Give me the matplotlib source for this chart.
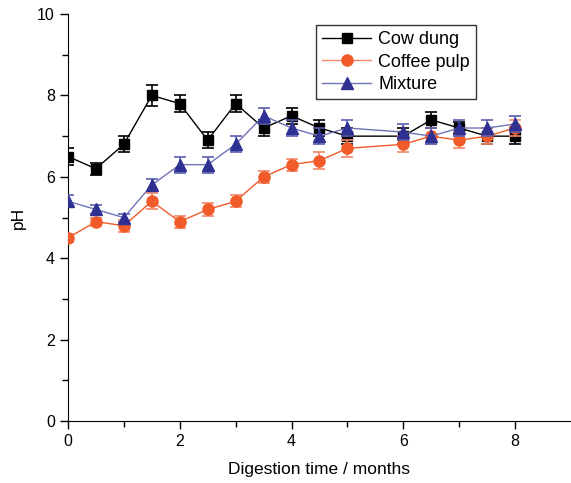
import matplotlib
matplotlib.use("Agg")
import matplotlib.pyplot as plt
from matplotlib.lines import Line2D

plt.rcParams['font.family'] = ['Liberation Sans', 'DejaVu Sans']

time = [0, 0.5, 1, 1.5, 2, 2.5, 3, 3.5, 4, 4.5, 5, 6, 6.5, 7, 7.5, 8]
cow_dung = [6.5, 6.2, 6.8, 8.0, 7.8, 6.9, 7.8, 7.2, 7.5, 7.2, 7.0, 7.0, 7.4, 7.2, 7.0, 7.0]
cow_err = [0.2, 0.15, 0.2, 0.25, 0.2, 0.2, 0.2, 0.2, 0.2, 0.2, 0.2, 0.2, 0.2, 0.15, 0.2, 0.2]
coffee_pulp = [4.5, 4.9, 4.8, 5.4, 4.9, 5.2, 5.4, 6.0, 6.3, 6.4, 6.7, 6.8, 7.0, 6.9, 7.0, 7.2]
coffee_err = [0.1, 0.1, 0.15, 0.2, 0.15, 0.15, 0.15, 0.15, 0.15, 0.2, 0.2, 0.2, 0.2, 0.2, 0.2, 0.2]
mixture = [5.4, 5.2, 5.0, 5.8, 6.3, 6.3, 6.8, 7.5, 7.2, 7.0, 7.2, 7.1, 7.0, 7.2, 7.2, 7.3]
mix_err = [0.15, 0.1, 0.1, 0.15, 0.2, 0.2, 0.2, 0.2, 0.2, 0.2, 0.2, 0.2, 0.2, 0.2, 0.2, 0.2]

fig = plt.figure(figsize=(5.71, 4.83), dpi=100)
ax = fig.add_axes([0.119, 0.128, 0.881, 0.843])

ax.errorbar(time, cow_dung, yerr=cow_err, color='black', marker='s', markersize=7,
            lw=1.0, elinewidth=1.2, capsize=4, capthick=1.2, zorder=3)
ax.errorbar(time, coffee_pulp, yerr=coffee_err, color='#f15a29', ecolor='#f5876a', marker='o',
            markersize=8, lw=1.0, elinewidth=1.2, capsize=4, capthick=1.2, zorder=4)
ax.errorbar(time, mixture, yerr=mix_err, color='#6f73b8', mfc='#2e3192', mec='#2e3192', ecolor='#5a5eb0',
            marker='^', markersize=9, lw=1.0, elinewidth=1.2, capsize=4, capthick=1.2, zorder=5)

ax.set_xlim(0, 9)
ax.set_ylim(0, 10)
ax.set_xticks([0, 2, 4, 6, 8])
ax.set_xticks([1, 3, 5, 7], minor=True)
ax.set_yticks([0, 2, 4, 6, 8, 10])
ax.set_yticks([1, 3, 5, 7, 9], minor=True)
ax.spines['top'].set_visible(False)
ax.spines['right'].set_visible(False)
ax.tick_params(which='major', direction='out', length=6, width=1, labelsize=11.5)
ax.tick_params(which='minor', direction='out', length=4, width=1)
ax.set_xlabel('Digestion time / months', fontsize=12.5, labelpad=9)
ax.set_ylabel('pH', fontsize=12.5, labelpad=8)

handles = [
    Line2D([], [], color='black', marker='s', markersize=7, lw=1.0),
    Line2D([], [], color='#f5876a', marker='o', markersize=8, lw=1.0, mfc='#f15a29', mec='#f15a29'),
    Line2D([], [], color='#6f73b8', marker='^', markersize=9, lw=1.0, mfc='#2e3192', mec='#2e3192'),
]
labels = ['Cow dung', 'Coffee pulp', 'Mixture']
leg = ax.legend(handles, labels, loc='upper left', bbox_to_anchor=(0.493, 0.973), fontsize=13, frameon=True,
                fancybox=False, edgecolor='black', handlelength=2.7, borderpad=0.35,
                labelspacing=0.3, handletextpad=0.4, borderaxespad=0)
leg.get_frame().set_linewidth(1.0)

fig.savefig('out.png', dpi=100)
